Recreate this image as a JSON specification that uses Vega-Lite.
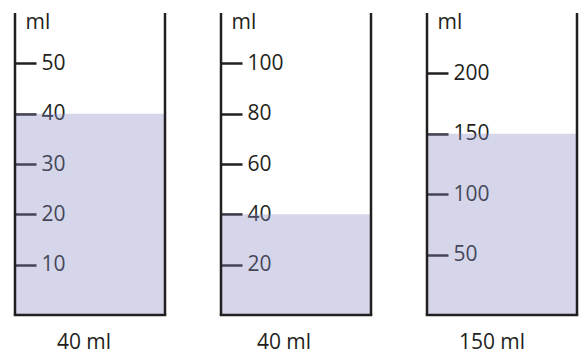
{
  "$schema": "https://vega.github.io/schema/vega-lite/v6.json",
  "padding": {"left": 13, "top": 11, "right": 0, "bottom": 8},
  "spacing": 52,
  "config": {
    "view": {"stroke": null},
    "font": "Open Sans",
    "axisY": {"minExtent": 0, "maxExtent": 0}
  },
  "hconcat": [
    {
      "width": 150, "height": 302,
      "data": {"values": [{"volume": 40, "label": "40 ml"}]},
      "title": {"text": "40 ml", "orient": "bottom", "anchor": "middle", "baseline": "alphabetic", "offset": 32, "dx": -6, "fontSize": 21, "fontWeight": "normal", "font": "Open Sans", "color": "#231f20"},
      "layer": [
        {
          "mark": {"type": "rect", "color": "#878ac3", "opacity": 0.35},
          "encoding": {
            "x": {"datum": 0, "type": "quantitative", "scale": {"domain": [0, 1]}, "axis": null},
            "x2": {"datum": 1},
            "y": {"field": "volume", "type": "quantitative", "scale": {"domain": [0, 60], "nice": false},
              "axis": {"orient": "left", "values": [10, 20, 30, 40, 50], "domain": false, "grid": false, "tickSize": -21, "tickWidth": 2.5, "tickColor": "#231f20", "labelPadding": -5, "labelAlign": "left", "labelBaseline": "middle", "labelFontSize": 21, "labelFont": "Open Sans", "labelColor": "#231f20", "title": "ml", "titleAngle": 0, "titleAlign": "left", "titleBaseline": "alphabetic", "titleX": 10, "titleY": 15, "titleFontSize": 21, "titleFontWeight": "normal", "titleFont": "Open Sans", "titleColor": "#231f20"}},
            "y2": {"datum": 0}
          }
        },
        {"mark": {"type": "rule", "color": "#231f20", "strokeWidth": 2.5}, "encoding": {"x": {"datum": 0, "type": "quantitative"}}},
        {"mark": {"type": "rule", "color": "#231f20", "strokeWidth": 2.5}, "encoding": {"x": {"datum": 1, "type": "quantitative"}}},
        {"mark": {"type": "rule", "color": "#231f20", "strokeWidth": 2.5, "strokeCap": "square"}, "encoding": {"y": {"datum": 0, "type": "quantitative"}}}
      ]
    },
    {
      "width": 150, "height": 302,
      "data": {"values": [{"volume": 40, "label": "40 ml"}]},
      "title": {"text": "40 ml", "orient": "bottom", "anchor": "middle", "baseline": "alphabetic", "offset": 32, "dx": -12, "fontSize": 21, "fontWeight": "normal", "font": "Open Sans", "color": "#231f20"},
      "layer": [
        {
          "mark": {"type": "rect", "color": "#878ac3", "opacity": 0.35},
          "encoding": {
            "x": {"datum": 0, "type": "quantitative", "scale": {"domain": [0, 1]}, "axis": null},
            "x2": {"datum": 1},
            "y": {"field": "volume", "type": "quantitative", "scale": {"domain": [0, 120], "nice": false},
              "axis": {"orient": "left", "values": [20, 40, 60, 80, 100], "domain": false, "grid": false, "tickSize": -21, "tickWidth": 2.5, "tickColor": "#231f20", "labelPadding": -5, "labelAlign": "left", "labelBaseline": "middle", "labelFontSize": 21, "labelFont": "Open Sans", "labelColor": "#231f20", "title": "ml", "titleAngle": 0, "titleAlign": "left", "titleBaseline": "alphabetic", "titleX": 10, "titleY": 15, "titleFontSize": 21, "titleFontWeight": "normal", "titleFont": "Open Sans", "titleColor": "#231f20"}},
            "y2": {"datum": 0}
          }
        },
        {"mark": {"type": "rule", "color": "#231f20", "strokeWidth": 2.5}, "encoding": {"x": {"datum": 0, "type": "quantitative"}}},
        {"mark": {"type": "rule", "color": "#231f20", "strokeWidth": 2.5}, "encoding": {"x": {"datum": 1, "type": "quantitative"}}},
        {"mark": {"type": "rule", "color": "#231f20", "strokeWidth": 2.5, "strokeCap": "square"}, "encoding": {"y": {"datum": 0, "type": "quantitative"}}}
      ]
    },
    {
      "width": 150, "height": 302,
      "data": {"values": [{"volume": 150, "label": "150 ml"}]},
      "title": {"text": "150 ml", "orient": "bottom", "anchor": "middle", "baseline": "alphabetic", "offset": 32, "dx": -10, "fontSize": 21, "fontWeight": "normal", "font": "Open Sans", "color": "#231f20"},
      "layer": [
        {
          "mark": {"type": "rect", "color": "#878ac3", "opacity": 0.35},
          "encoding": {
            "x": {"datum": 0, "type": "quantitative", "scale": {"domain": [0, 1]}, "axis": null},
            "x2": {"datum": 1},
            "y": {"field": "volume", "type": "quantitative", "scale": {"domain": [0, 250], "nice": false},
              "axis": {"orient": "left", "values": [50, 100, 150, 200], "domain": false, "grid": false, "tickSize": -21, "tickWidth": 2.5, "tickColor": "#231f20", "labelPadding": -5, "labelAlign": "left", "labelBaseline": "middle", "labelFontSize": 21, "labelFont": "Open Sans", "labelColor": "#231f20", "title": "ml", "titleAngle": 0, "titleAlign": "left", "titleBaseline": "alphabetic", "titleX": 10, "titleY": 15, "titleFontSize": 21, "titleFontWeight": "normal", "titleFont": "Open Sans", "titleColor": "#231f20"}},
            "y2": {"datum": 0}
          }
        },
        {"mark": {"type": "rule", "color": "#231f20", "strokeWidth": 2.5}, "encoding": {"x": {"datum": 0, "type": "quantitative"}}},
        {"mark": {"type": "rule", "color": "#231f20", "strokeWidth": 2.5}, "encoding": {"x": {"datum": 1, "type": "quantitative"}}},
        {"mark": {"type": "rule", "color": "#231f20", "strokeWidth": 2.5, "strokeCap": "square"}, "encoding": {"y": {"datum": 0, "type": "quantitative"}}}
      ]
    }
  ]
}
